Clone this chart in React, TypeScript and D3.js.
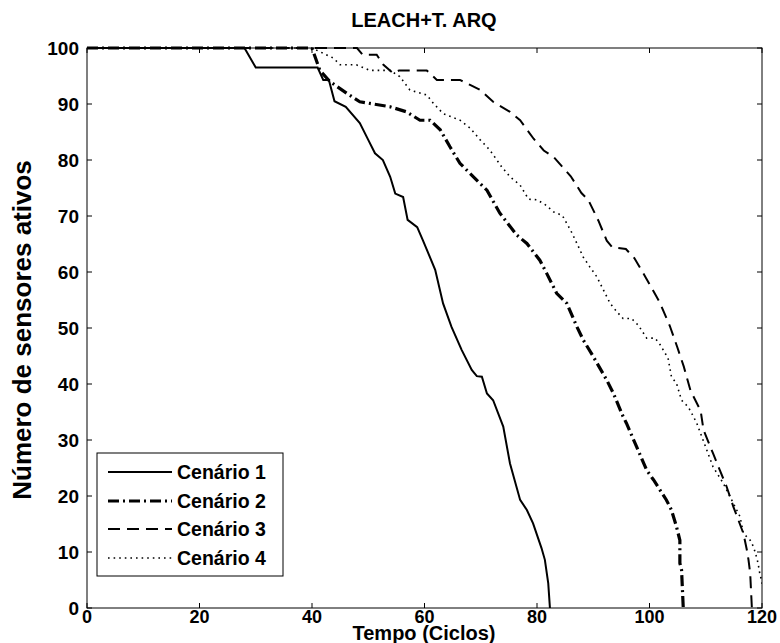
import React from "react";
import * as d3 from "d3";

const title = "LEACH+T. ARQ";
const xLabel = "Tempo (Ciclos)";
const yLabel = "Número de sensores ativos";
const xTicks = [0, 20, 40, 60, 80, 100, 120];
const yTicks = [0, 10, 20, 30, 40, 50, 60, 70, 80, 90, 100];
const seriesNames = ["Cenário 1", "Cenário 2", "Cenário 3", "Cenário 4"];

const cenario1: [number, number][] = [
  [0, 100], [28, 100], [30, 96.5], [41, 96.5], [42, 94.3], [43, 94.3], [44, 90.5], [46, 89.5],
  [48.5, 86.6], [50, 83.6], [51.2, 81.2], [52.6, 80], [53.9, 77], [54.8, 74], [56.2, 73.4],
  [57, 69.3], [58.7, 68], [59.7, 65.7], [61.9, 60.4], [63.3, 54.4], [64.8, 50.2], [66.6, 46.1],
  [68.4, 42.5], [69.3, 41.4], [70.2, 41.3], [71.1, 38.3], [72.2, 37.1], [74, 32.4], [75.2, 25.8],
  [77, 19.3], [78.2, 17.5], [79.3, 15.1], [80.8, 10.7], [81.4, 8.6], [82, 4.4], [82.3, 0],
];
const cenario2: [number, number][] = [
  [0, 100], [40, 100], [41.4, 96], [43.2, 94], [46.2, 91.9], [48.5, 90.4], [50.3, 90.1],
  [53.9, 89.5], [56.8, 88.6], [59.2, 87.1], [61, 87.1], [62.8, 85.4], [64.5, 82.4], [66.3, 79.4],
  [68.1, 77.6], [71.1, 74.6], [73.4, 70.5], [76.4, 66.6], [78.2, 65.1], [80.5, 62.1],
  [81.7, 59.8], [83.5, 56.2], [85.3, 54.4], [87.1, 50.2], [88.2, 47.9], [90, 44.9], [92.4, 40.7],
  [93.6, 38.3], [95.3, 34.2], [95.9, 33], [97.7, 28.8], [99.5, 24.6], [100.7, 22.9], [103, 19.3],
  [103.9, 17.5], [104.8, 14.5], [105.4, 12.1], [105.4, 8], [105.7, 6.8], [106, 0],
];
const cenario3: [number, number][] = [
  [0, 100], [48, 100], [49, 98.8], [51.5, 98.8], [52.7, 97], [54.4, 95.5], [55.5, 96],
  [60.4, 96], [62.2, 94.3], [66.3, 94.3], [68.1, 93.4], [69.9, 92.5], [72.2, 90.4],
  [75.2, 88.6], [77, 87.1], [79.4, 83.8], [81.2, 81.7], [83, 80.5], [86, 77.1], [87.9, 74.1],
  [89.1, 72.9], [90.9, 69.2], [92.4, 65.6], [93.4, 64.4], [95.8, 64.1], [97.3, 62.5],
  [99.4, 58.9], [101.8, 54.6], [103.6, 50.4], [104.9, 46.7], [106.1, 43.1], [107.3, 38.8],
  [109.1, 35.2], [109.6, 31.8], [111.3, 27.6], [112.5, 24.6], [113.7, 21.7], [114.9, 18.1],
  [116.7, 13.3], [117.3, 10.4], [117.6, 8.6], [117.9, 6.2], [118.2, 0],
];
const cenario4: [number, number][] = [
  [0, 100], [40, 100], [43.8, 98.2], [45, 97], [47.9, 97], [50.3, 96], [53.9, 96],
  [55.6, 94.9], [57.4, 92.5], [60.4, 91.6], [61.6, 90.1], [63.3, 88.3], [66.3, 87.1],
  [68.1, 85.7], [69.9, 83.6], [71.6, 81.8], [73.7, 78.8], [75.2, 77], [77, 75.5], [78.5, 73],
  [80, 72.9], [81.5, 72], [83, 70.7], [84.5, 70.1], [86, 67.4], [87.1, 65.1], [88.2, 62.7],
  [89.4, 60.9], [90.6, 59.2], [91.8, 56.8], [93, 54.4], [94.2, 52.9], [95.3, 51.7],
  [96.8, 51.7], [98, 50.5], [99.5, 48.2], [101, 48.2], [101.9, 47], [103.3, 44.6],
  [103.9, 41.3], [104.8, 40.1], [105.7, 37.1], [106.9, 35.9], [107.8, 34.2], [108.4, 33],
  [111.3, 25.2], [113.1, 22.3], [114.9, 18.7], [116.1, 16.3], [116.7, 13.3], [117.9, 12.1],
  [118.5, 10.9], [119, 9.2], [119.3, 8], [119.6, 6.2], [119.9, 5], [120.5, 2],
];

const seriesData = [cenario1, cenario2, cenario3, cenario4];
const styles = [
  { width: 2, dash: "none" },
  { width: 3.2, dash: "11,4,2,4" },
  { width: 2, dash: "12,7" },
  { width: 1.6, dash: "1.6,4" },
];

const W = 780, H = 643;
const left = 87, right = 762, top = 48, bottom = 608;
const FONT = "'Liberation Sans', Arial, sans-serif";

export default function App() {
  const x = d3.scaleLinear().domain([0, 120]).range([left, right]);
  const y = d3.scaleLinear().domain([0, 100]).range([bottom, top]);
  const line = d3.line<[number, number]>().x(d => x(d[0])).y(d => y(d[1]));
  const tl = 5;
  const legX = 97, legY = 453, legW = 186, legH = 123;
  const rowY = [472, 501, 529, 558];
  return (
    <svg width={W} height={H} style={{ position: "absolute", left: 0, top: 0, background: "#fff" }}>
      <rect x={0} y={0} width={W} height={H} fill="#fff" />
      <defs>
        <clipPath id="plot"><rect x={left} y={top - 2} width={right - left} height={bottom - top + 2} /></clipPath>
      </defs>
      <g clipPath="url(#plot)">
        {seriesData.map((s, i) => (
          <path key={i} d={line(s) || ""} fill="none" stroke="#000" strokeWidth={styles[i].width}
            strokeDasharray={styles[i].dash} strokeLinejoin="miter" />
        ))}
      </g>
      <rect x={left} y={top} width={right - left} height={bottom - top} fill="none" stroke="#000" strokeWidth={1} />
      {xTicks.map(t => (
        <g key={"x" + t}>
          <line x1={x(t)} x2={x(t)} y1={bottom} y2={bottom - tl} stroke="#000" />
          <line x1={x(t)} x2={x(t)} y1={top} y2={top + tl} stroke="#000" />
          <text x={x(t)} y={623} textAnchor="middle" fontFamily={FONT} fontWeight="bold" fontSize={18}>{t}</text>
        </g>
      ))}
      {yTicks.map(t => (
        <g key={"y" + t}>
          <line x1={left} x2={left + tl} y1={y(t)} y2={y(t)} stroke="#000" />
          <line x1={right} x2={right - tl} y1={y(t)} y2={y(t)} stroke="#000" />
          <text x={79} y={y(t) + 7} textAnchor="end" fontFamily={FONT} fontWeight="bold" fontSize={19}>{t}</text>
        </g>
      ))}
      <text x={424} y={27} textAnchor="middle" fontFamily={FONT} fontWeight="bold" fontSize={20}>{title}</text>
      <text x={424} y={640} textAnchor="middle" fontFamily={FONT} fontWeight="bold" fontSize={20}>{xLabel}</text>
      <text transform={`translate(31,${(top + bottom) / 2 + 2}) rotate(-90)`} textAnchor="middle" fontFamily={FONT} fontWeight="bold" fontSize={26}>{yLabel}</text>
      <rect x={legX} y={legY} width={legW} height={legH} fill="#fff" stroke="#000" strokeWidth={1} />
      {seriesNames.map((n, i) => (
        <g key={n}>
          <line x1={108} x2={172} y1={rowY[i]} y2={rowY[i]} stroke="#000" strokeWidth={styles[i].width} strokeDasharray={styles[i].dash} />
          <text x={177} y={rowY[i] + 7} fontFamily={FONT} fontWeight="bold" fontSize={19.5}>{n}</text>
        </g>
      ))}
    </svg>
  );
}
